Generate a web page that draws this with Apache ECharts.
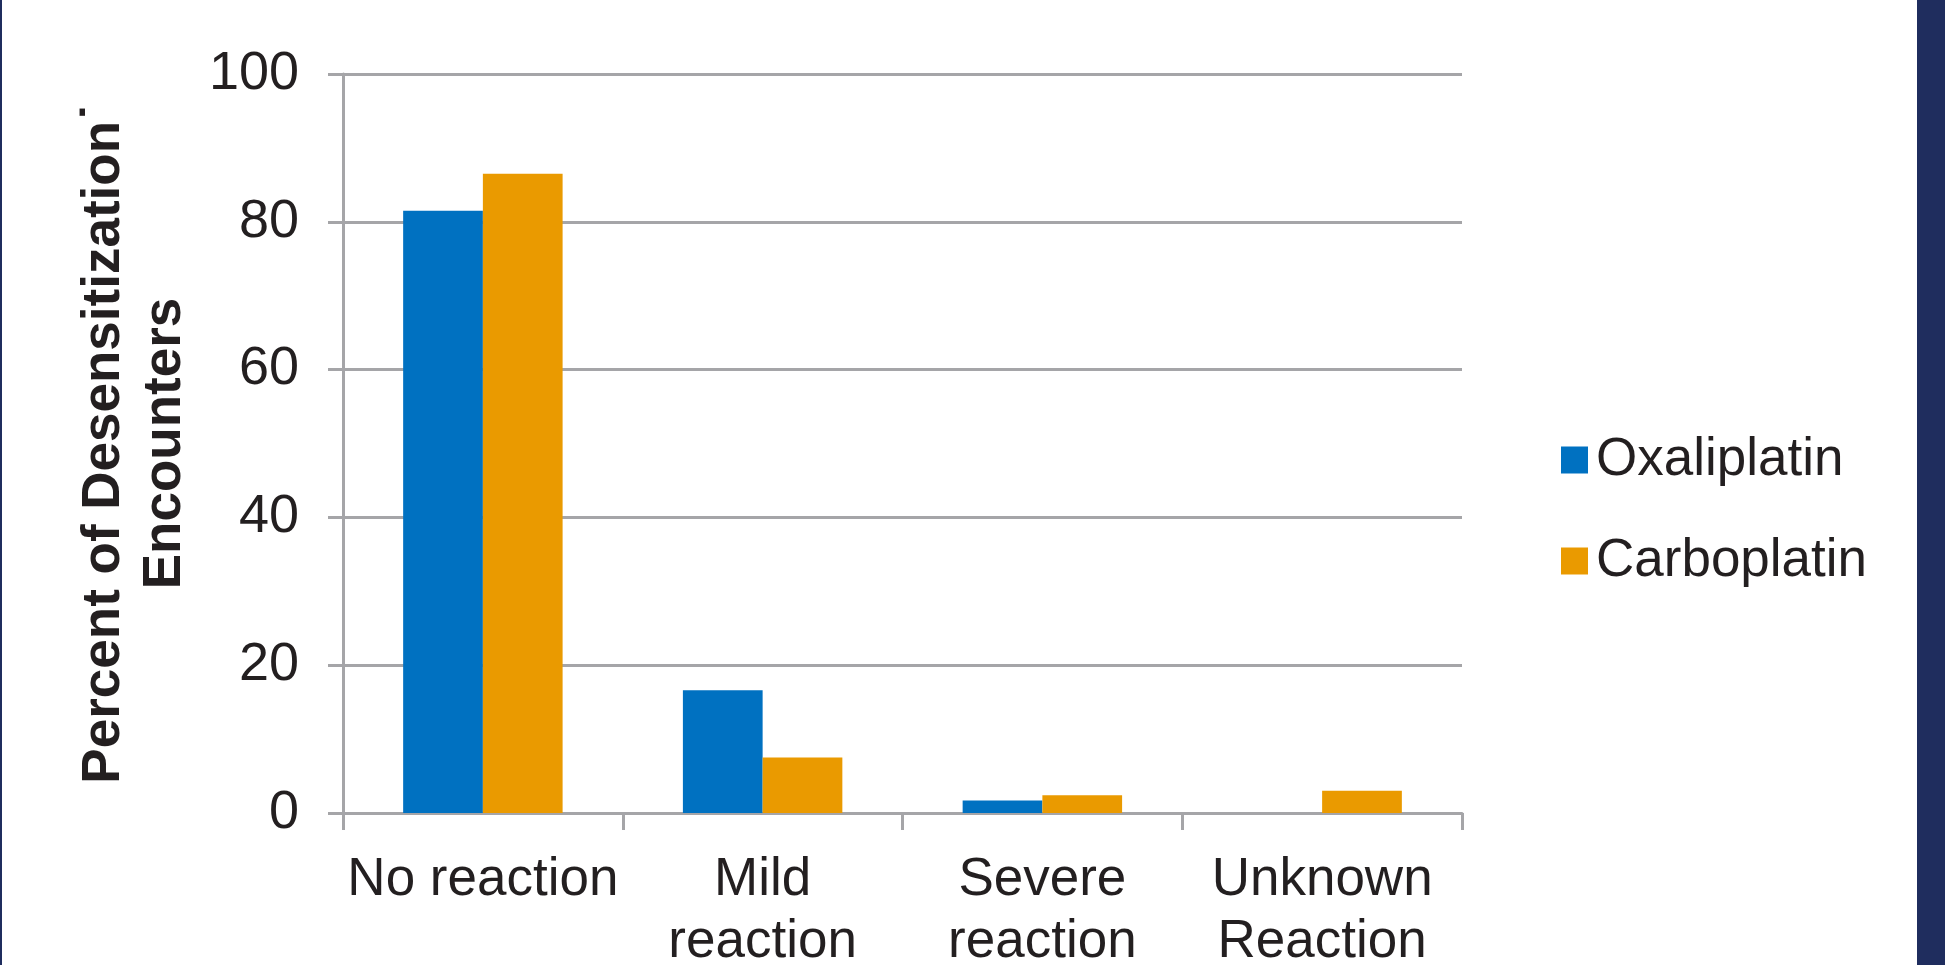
<!DOCTYPE html>
<html>
<head>
<meta charset="utf-8">
<title>Desensitization outcomes</title>
<script src="https://cdn.jsdelivr.net/npm/echarts@6/dist/echarts.min.js"></script>
<style>
  html, body { margin: 0; padding: 0; background: #ffffff; }
  #chart { width: 1945px; height: 965px; }
</style>
</head>
<body>
<div id="chart"></div>
<script>
// Outcome categories on the x axis
const categories = ['No reaction', 'Mild\nreaction', 'Severe\nreaction', 'Unknown\nReaction'];
// Percent of desensitization encounters per drug
const oxaliplatin = [81.5, 16.6, 1.7, 0];
const carboplatin = [86.5, 7.5, 2.4, 3.0];
// Y axis range
const yMin = 0, yMax = 100, yStep = 20;

const gridGray = '#A5A5A8';
const textColor = '#231F20';
const navy = '#1F2D5E';
const font = '"Liberation Sans", Arial, Helvetica, sans-serif';

const chart = echarts.init(document.getElementById('chart'), null, { renderer: 'canvas' });

chart.setOption({
  backgroundColor: '#ffffff',
  animation: false,
  textStyle: { fontFamily: font, color: textColor },
  graphic: [
    { type: 'rect', left: 0, top: 0, shape: { width: 2, height: 965 }, style: { fill: navy } },
    { type: 'rect', left: 1917, top: 0, shape: { width: 28, height: 965 }, style: { fill: navy } }
  ],
  grid: { left: 343, right: 483, top: 74, bottom: 152, containLabel: false, outerBoundsMode: 'none' },
  legend: {
    orient: 'vertical',
    left: 1556,
    top: 425,
    icon: 'rect',
    itemWidth: 27,
    itemHeight: 27,
    itemGap: 41,
    selectedMode: false,
    textStyle: { fontFamily: font, fontSize: 53, color: textColor, lineHeight: 60, padding: [0, 0, 0, 3] },
    data: ['Oxaliplatin', 'Carboplatin']
  },
  xAxis: {
    type: 'category',
    data: categories,
    boundaryGap: true,
    axisLine: { lineStyle: { color: gridGray, width: 3 } },
    axisTick: { show: true, inside: false, length: 17, lineStyle: { color: gridGray, width: 3 } },
    axisLabel: { interval: 0, margin: 36, fontFamily: font, fontSize: 53, lineHeight: 62, color: textColor }
  },
  yAxis: {
    type: 'value',
    min: yMin,
    max: yMax,
    interval: yStep,
    name: 'Percent of Desensitization\u02D9\nEncounters',
    nameLocation: 'middle',
    nameRotate: 90,
    nameGap: 147,
    nameTextStyle: { fontFamily: font, fontSize: 53, fontWeight: 'bold', lineHeight: 61, color: textColor, align: 'center' },
    axisLine: { show: true, lineStyle: { color: gridGray, width: 3 } },
    axisTick: { show: true, inside: false, length: 15, lineStyle: { color: gridGray, width: 3 } },
    axisLabel: { margin: 44, fontFamily: font, fontSize: 54, color: textColor },
    splitLine: { show: true, lineStyle: { color: gridGray, width: 3 } }
  },
  series: [
    {
      name: 'Oxaliplatin',
      type: 'bar',
      data: oxaliplatin,
      barGap: '0%',
      barCategoryGap: '43%',
      itemStyle: { color: '#0071C1' }
    },
    {
      name: 'Carboplatin',
      type: 'bar',
      data: carboplatin,
      barGap: '0%',
      barCategoryGap: '43%',
      itemStyle: { color: '#EA9A00' }
    }
  ]
});
</script>
</body>
</html>
